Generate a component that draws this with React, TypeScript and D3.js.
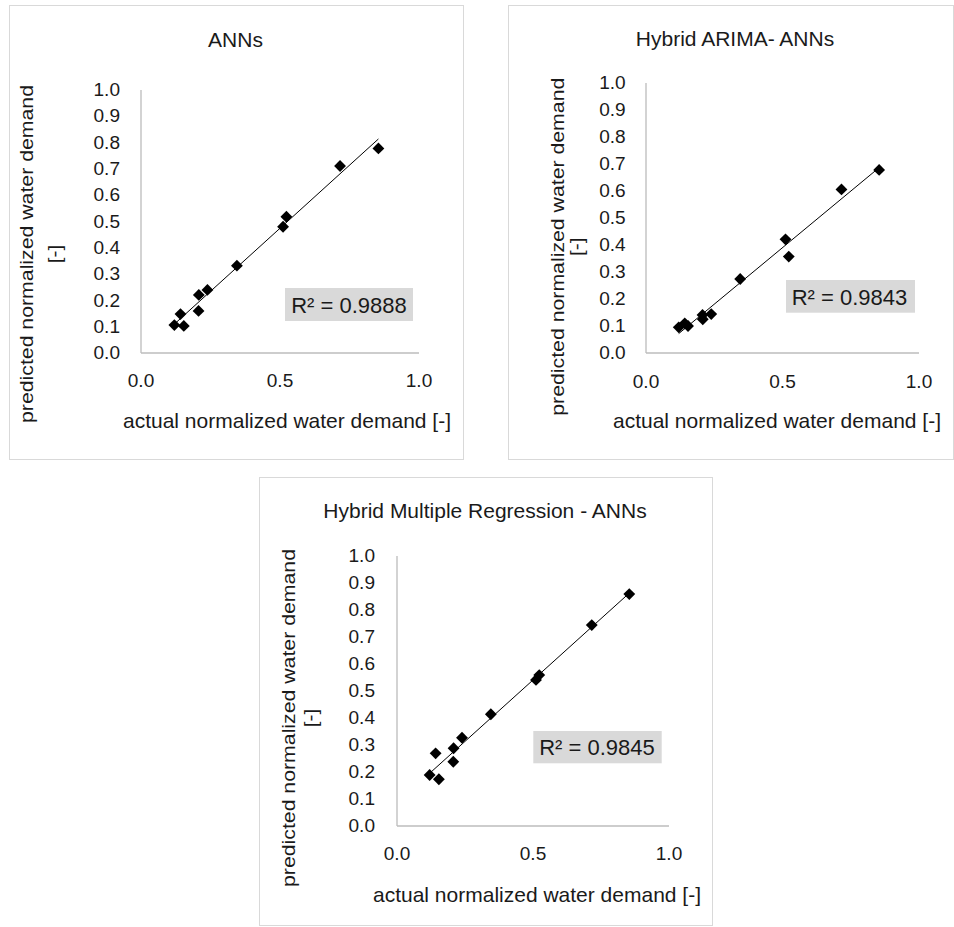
import React from "react";
import * as d3 from "d3";

// ---- data ----
const actualDemand = [0.12, 0.142, 0.154, 0.207, 0.208, 0.239, 0.345, 0.511, 0.523, 0.716, 0.854];
const annPredicted = [0.106, 0.148, 0.103, 0.16, 0.221, 0.24, 0.332, 0.48, 0.518, 0.711, 0.778];
const arimaAnnPredicted = [0.095, 0.11, 0.1, 0.141, 0.125, 0.144, 0.274, 0.421, 0.357, 0.606, 0.678];
const mrAnnPredicted = [0.189, 0.269, 0.173, 0.238, 0.288, 0.327, 0.414, 0.541, 0.559, 0.744, 0.859];

const chartTitles = ["ANNs", "Hybrid ARIMA- ANNs", "Hybrid Multiple Regression - ANNs"];
const r2Labels = ["R² = 0.9888", "R² = 0.9843", "R² = 0.9845"];
const yTicks = [0, 0.1, 0.2, 0.3, 0.4, 0.5, 0.6, 0.7, 0.8, 0.9, 1.0];
const xTicks = [0, 0.5, 1.0];
const xAxisTitle = "actual normalized water demand [-]";
const yAxisTitle1 = "predicted normalized water demand";
const yAxisTitle2 = "[-]";

// ---- layout (pixels) ----
const panels = [
  {
    pred: annPredicted,
    frame: { x0: 9, y0: 5, x1: 463, y1: 459 },
    plot: { left: 141, right: 419, bottom: 353, top: 90 },
    title: { x: 235.5, y: 46.7 },
    ytitle: { x1: 33, x2: 61, cy: 254 },
    xtitle: { x: 287, y: 428 },
    yTickRight: 120,
    xTickCy: 381,
    box: { x0: 285, y0: 288, x1: 413, y1: 321, tx: 349, ty: 313 },
  },
  {
    pred: arimaAnnPredicted,
    frame: { x0: 508, y0: 5, x1: 953, y1: 459 },
    plot: { left: 646, right: 919, bottom: 353, top: 83 },
    title: { x: 735, y: 46 },
    ytitle: { x1: 564, x2: 583, cy: 246.7 },
    xtitle: { x: 777, y: 427.5 },
    yTickRight: 625.7,
    xTickCy: 381.5,
    box: { x0: 786, y0: 280, x1: 915, y1: 312.7, tx: 849.5, ty: 305 },
  },
  {
    pred: mrAnnPredicted,
    frame: { x0: 259, y0: 477, x1: 712, y1: 925 },
    plot: { left: 397, right: 669, bottom: 826, top: 556 },
    title: { x: 485, y: 518.3 },
    ytitle: { x1: 295, x2: 317, cy: 718 },
    xtitle: { x: 537, y: 901.5 },
    yTickRight: 375,
    xTickCy: 854,
    box: { x0: 533.3, y0: 731, x1: 661.7, y1: 763.3, tx: 597, ty: 755 },
  },
];

const FONT = "'Liberation Sans', Arial, Helvetica, sans-serif";
const TEXT = "#1a1a1a";
const AXIS = "#bcbcbc";
const FRAME = "#d9d9d9";
const TICK_FS = 17.5;
const TICK_W_PER_CHAR = 26.5 / 3;

function linReg(xs: number[], ys: number[]) {
  const mx = d3.mean(xs)!;
  const my = d3.mean(ys)!;
  let sxy = 0, sxx = 0;
  xs.forEach((x, i) => {
    sxy += (x - mx) * (ys[i] - my);
    sxx += (x - mx) * (x - mx);
  });
  const slope = sxy / sxx;
  return { slope, intercept: my - slope * mx };
}

function Panel({ p, idx }: { p: (typeof panels)[number]; idx: number }) {
  const x = d3.scaleLinear().domain([0, 1]).range([p.plot.left, p.plot.right]);
  const y = d3.scaleLinear().domain([0, 1]).range([p.plot.bottom, p.plot.top]);
  const fmt = d3.format(".1f");
  const reg = linReg(actualDemand, p.pred);
  const [xmin, xmax] = d3.extent(actualDemand) as [number, number];
  const line = d3
    .line<number>()
    .x((d) => x(d))
    .y((d) => y(reg.intercept + reg.slope * d));
  const sym = d3.symbol().type(d3.symbolSquare).size(70)();
  const f = p.frame;
  return (
    <g>
      <rect x={f.x0 + 0.5} y={f.y0 + 0.5} width={f.x1 - f.x0} height={f.y1 - f.y0} fill="#fff" stroke={FRAME} strokeWidth={1} />
      <text x={p.title.x} y={p.title.y} textAnchor="middle" fontSize={21} fill={TEXT} fontFamily={FONT}>
        {chartTitles[idx]}
      </text>
      {/* axes */}
      <line x1={x(0)} x2={x(0)} y1={y(0)} y2={y(1)} stroke={AXIS} strokeWidth={1.3} />
      <line x1={x(0)} x2={x(1)} y1={y(0)} y2={y(0)} stroke={AXIS} strokeWidth={1.3} />
      {yTicks.map((t) => {
        const s = fmt(t);
        return (
          <text
            key={"y" + t}
            x={p.yTickRight}
            y={y(t) + 6.1}
            textAnchor="end"
            fontSize={TICK_FS}
            fill={TEXT}
            fontFamily={FONT}
            textLength={TICK_W_PER_CHAR * s.length}
            lengthAdjust="spacingAndGlyphs"
          >
            {s}
          </text>
        );
      })}
      {xTicks.map((t) => {
        const s = fmt(t);
        return (
          <text
            key={"x" + t}
            x={x(t)}
            y={p.xTickCy + 6.1}
            textAnchor="middle"
            fontSize={TICK_FS}
            fill={TEXT}
            fontFamily={FONT}
            textLength={TICK_W_PER_CHAR * s.length}
            lengthAdjust="spacingAndGlyphs"
          >
            {s}
          </text>
        );
      })}
      {/* axis titles */}
      <text x={p.xtitle.x} y={p.xtitle.y} textAnchor="middle" fontSize={21} fill={TEXT} fontFamily={FONT}>
        {xAxisTitle}
      </text>
      <text
        transform={`translate(${p.ytitle.x1},${p.ytitle.cy}) rotate(-90)`}
        textAnchor="middle"
        fontSize={19}
        fill={TEXT}
        fontFamily={FONT}
        textLength={338}
        lengthAdjust="spacingAndGlyphs"
      >
        {yAxisTitle1}
      </text>
      <text
        transform={`translate(${p.ytitle.x2},${p.ytitle.cy}) rotate(-90)`}
        textAnchor="middle"
        fontSize={19}
        fill={TEXT}
        fontFamily={FONT}
        textLength={18.5}
        lengthAdjust="spacingAndGlyphs"
      >
        {yAxisTitle2}
      </text>
      {/* trendline */}
      <path d={line([xmin, xmax]) || ""} fill="none" stroke="#000" strokeWidth={1} />
      {/* points */}
      {actualDemand.map((a, i) => (
        <path key={i} d={sym || ""} transform={`translate(${x(a)},${y(p.pred[i])}) rotate(45)`} fill="#000" />
      ))}
      {/* R² label */}
      <rect x={p.box.x0} y={p.box.y0} width={p.box.x1 - p.box.x0} height={p.box.y1 - p.box.y0} fill="#d9d9d9" />
      <text x={p.box.tx} y={p.box.ty} textAnchor="middle" fontSize={22} fill={TEXT} fontFamily={FONT}>
        {r2Labels[idx]}
      </text>
    </g>
  );
}

export default function App() {
  return (
    <svg
      width={954}
      height={927}
      style={{ position: "absolute", left: 0, top: 0, background: "#fff" }}
    >
      <rect x={0} y={0} width={954} height={927} fill="#fff" />
      {panels.map((p, i) => (
        <Panel key={i} p={p} idx={i} />
      ))}
    </svg>
  );
}
